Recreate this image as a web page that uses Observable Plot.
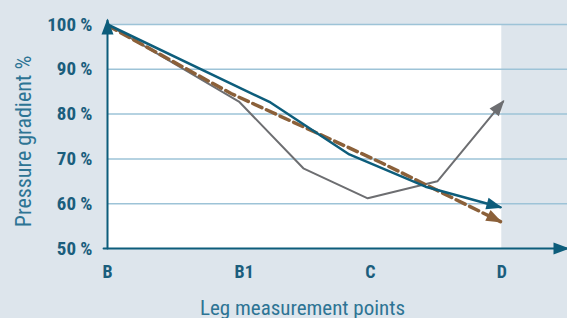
<!DOCTYPE html>
<html><head><meta charset="utf-8">
<script src="https://cdn.jsdelivr.net/npm/d3@7"></script>
<script src="https://cdn.jsdelivr.net/npm/@observablehq/plot@0.6"></script>
<style>
html,body{margin:0;padding:0;background:#dde5ec;overflow:hidden;}
</style></head><body><div id="chart"></div>
<script>
// categories on the x axis and their positions
const points = ["B", "B1", "C", "D"];
const pointPos = [0, 1.04, 2, 3];
const xMax = 3.5;
// y ticks (%)
const yTicks = [50, 60, 70, 80, 90, 100];
const yArrowTip = 100.9;
// series: dark teal solid
const tealX = [0, 1.24, 1.84, 2.42, 2.99];
const tealY = [100, 82.6, 71.0, 63.8, 59.2];
// series: gray
const grayX = [0, 1.0, 1.49, 1.98, 2.51, 3.01];
const grayY = [100, 82.8, 67.9, 61.2, 65.0, 82.8];
// series: brown dashed
const brownX = [0, 0.94, 2.08, 2.99];
const brownY = [99.8, 84.6, 69.2, 56.0];

const FONT = '"Liberation Sans Narrow", "Roboto Condensed", "DejaVu Sans Condensed", "Arial Narrow", sans-serif';
const TEAL = "#0d5d7b", GRAY = "#6d6e71", BROWN = "#8b6039", GRID = "#9dc3d7";
const LABEL = "#1b5e7d", TITLE = "#2d7494";

const toPts = (xs, ys) => xs.map((x, i) => ({x, y: ys[i]}));

const chart = Plot.plot({
  width: 567, height: 318,
  marginLeft: 107, marginRight: 0, marginTop: 24, marginBottom: 70,
  x: {domain: [0, xMax]},
  y: {domain: [yTicks[0], yTicks[yTicks.length - 1]]},
  style: {background: "#dde5ec", fontFamily: FONT},
  marks: [
    Plot.rect([0], {x1: () => pointPos[0], x2: () => pointPos[3], y1: () => yTicks[0], y2: () => yTicks[yTicks.length - 1], fill: "white"}),
    Plot.ruleY(yTicks.slice(1), {x1: () => 0, x2: () => xMax, stroke: GRID, strokeWidth: 1.5}),
    Plot.axisY({ticks: yTicks, tickFormat: d => `${d} %`, tickSize: 0, tickPadding: 15, fontWeight: "bold", fontSize: 19, fill: LABEL, label: null}),
    Plot.axisX({ticks: pointPos, tickFormat: d => points[pointPos.indexOf(d)], tickSize: 0, tickPadding: 17, fontWeight: "bold", fontSize: 18, fill: LABEL, label: null}),
    Plot.text(["Leg measurement points"], {frameAnchor: "bottom", dx: -35, dy: 66, textAnchor: "middle", lineAnchor: "bottom", fontSize: 21, fill: TITLE, text: d => d}),
    Plot.text(["Pressure gradient %"], {frameAnchor: "left", dx: -84, dy: 5, rotate: -90, textAnchor: "middle", fontSize: 22, fill: TITLE, text: d => d}),
    Plot.line(toPts(grayX, grayY), {x: "x", y: "y", stroke: GRAY, strokeWidth: 2, markerEnd: "arrow"}),
    Plot.line(toPts(brownX, brownY), {x: "x", y: "y", stroke: BROWN, strokeWidth: 3.5, strokeDasharray: "10,5", markerEnd: "arrow"}),
    Plot.line(toPts(tealX, tealY), {x: "x", y: "y", stroke: TEAL, strokeWidth: 2.5, markerEnd: "arrow"}),
    Plot.line([{x: 0, y: yTicks[0]}, {x: 0, y: yArrowTip}], {x: "x", y: "y", stroke: TEAL, strokeWidth: 2, markerEnd: "arrow"}),
    Plot.line([{x: -0.03, y: yTicks[0]}, {x: xMax, y: yTicks[0]}], {x: "x", y: "y", stroke: TEAL, strokeWidth: 2, markerEnd: "arrow"})
  ]
});

// filled triangular arrowheads
for (const m of chart.querySelectorAll("marker")) {
  const c = m.getAttribute("stroke");
  m.setAttribute("viewBox", "-15 -7 17 14");
  m.setAttribute("markerUnits", "userSpaceOnUse");
  m.setAttribute("markerWidth", 17);
  m.setAttribute("markerHeight", 14);
  m.setAttribute("fill", c);
  m.setAttribute("stroke", "none");
  const p = m.querySelector("path");
  if (p) p.setAttribute("d", "M-14,-6L2,0L-14,6Z");
}
document.getElementById("chart").appendChild(chart);
</script>
</body></html>
